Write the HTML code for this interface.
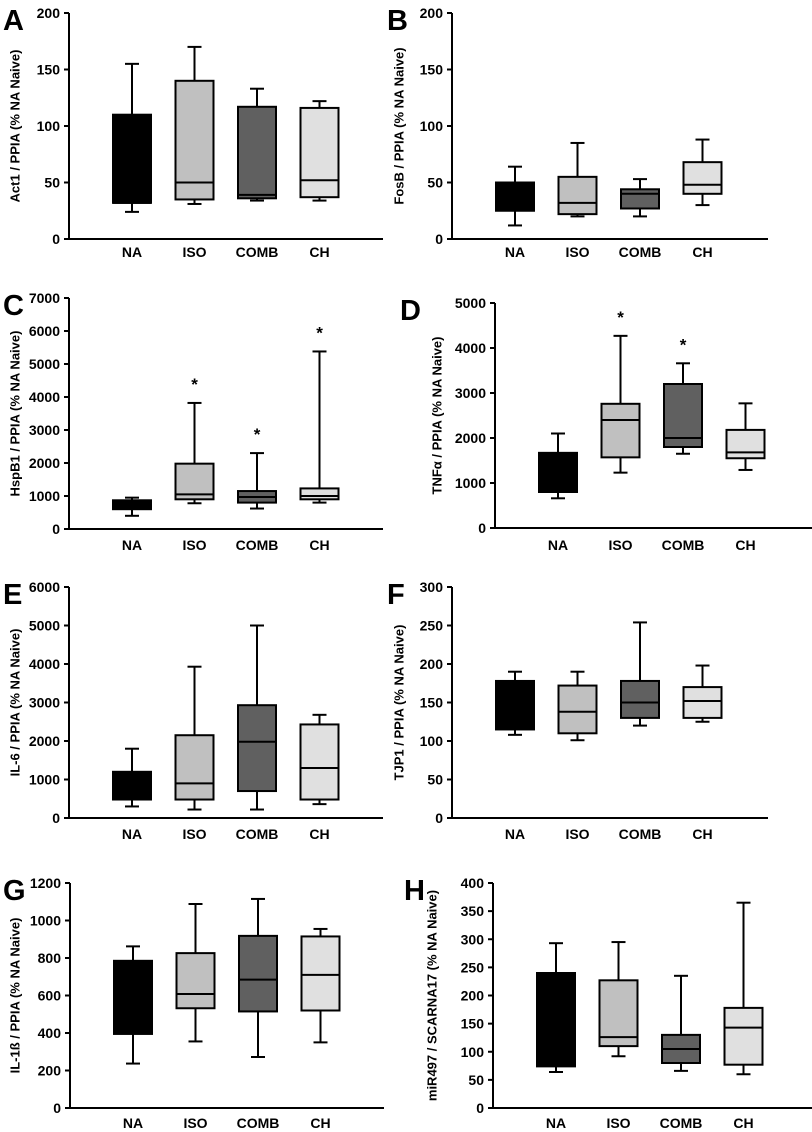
<!DOCTYPE html>
<html><head><meta charset="utf-8"><style>
body{margin:0;background:#fff;}
svg{display:block;font-family:"Liberation Sans",Arial,sans-serif;font-weight:bold;}
</style></head><body>
<svg id="fig" width="812" height="1132" viewBox="0 0 812 1132"></svg>
<script>
const groups = ["NA","ISO","COMB","CH"];
const fills = ["#000000","#c0c0c0","#606060","#e0e0e0"];
// [whiskerLow, q1, median, q3, whiskerHigh] per group
const dataA = [[24,32,32,110,155],[31,35,50,140,170],[34,36,39,117,133],[34,37,52,116,122]];
const dataB = [[12,25,40,50,64],[20,22,32,55,85],[20,27,40,44,53],[30,40,48,68,88]];
const dataC = [[400,600,700,870,950],[780,900,1050,1980,3820],[620,800,970,1150,2300],[800,900,1000,1230,5380]];
const dataD = [[660,800,1200,1670,2100],[1230,1570,2400,2760,4270],[1650,1800,2000,3200,3660],[1290,1550,1680,2180,2770]];
const dataE = [[300,480,800,1200,1800],[220,480,900,2150,3930],[220,700,1980,2930,5000],[360,480,1300,2430,2680]];
const dataF = [[108,115,150,178,190],[101,110,138,172,190],[120,130,150,178,254],[125,130,152,170,198]];
const dataG = [[237,395,570,785,862],[355,532,608,826,1088],[272,515,685,918,1115],[350,520,710,915,955]];
const dataH = [[64,74,160,240,293],[92,110,126,227,295],[66,80,105,130,235],[60,77,143,178,365]];
const ticksA = [0,50,100,150,200];
const ticksC = [0,1000,2000,3000,4000,5000,6000,7000];
const ticksD = [0,1000,2000,3000,4000,5000];
const ticksE = [0,1000,2000,3000,4000,5000,6000];
const ticksF = [0,50,100,150,200,250,300];
const ticksG = [0,200,400,600,800,1000,1200];
const ticksH = [0,50,100,150,200,250,300,350,400];
const starsC = [false,true,true,true];
const starsD = [false,true,true,false];
const none = [false,false,false,false];

const panels = [
 {id:"a",letter:"A",lx:3,ly:30,title:"Act1 / PPIA (% NA Naive)",tx:15,ax:69,top:13,bot:239,xend:383,lab:257,data:dataA,ticks:ticksA,stars:none},
 {id:"b",letter:"B",lx:387,ly:30,title:"FosB / PPIA (% NA Naive)",tx:399,ax:452,top:13,bot:239,xend:768,lab:257,data:dataB,ticks:ticksA,stars:none},
 {id:"c",letter:"C",lx:3,ly:315,title:"HspB1 / PPIA (% NA Naive)",tx:15,ax:69,top:298,bot:529,xend:383,lab:550,data:dataC,ticks:ticksC,stars:starsC},
 {id:"d",letter:"D",lx:400,ly:320,title:"TNF\u03b1 / PPIA (% NA Naive)",tx:437,ax:495,top:303,bot:528,xend:812,lab:550,data:dataD,ticks:ticksD,stars:starsD},
 {id:"e",letter:"E",lx:3,ly:604,title:"IL-6 / PPIA (% NA Naive)",tx:15,ax:69,top:587,bot:818,xend:383,lab:839,data:dataE,ticks:ticksE,stars:none},
 {id:"f",letter:"F",lx:387,ly:604,title:"TJP1 / PPIA (% NA Naive)",tx:399,ax:452,top:587,bot:818,xend:768,lab:839,data:dataF,ticks:ticksF,stars:none},
 {id:"g",letter:"G",lx:3,ly:900,title:"IL-1\u00df / PPIA (% NA Naive)",tx:15,ax:70,top:883,bot:1108,xend:384,lab:1128,data:dataG,ticks:ticksG,stars:none},
 {id:"h",letter:"H",lx:404,ly:900,title:"miR497 / SCARNA17 (% NA Naive)",tx:432,ax:493,top:883,bot:1108,xend:812,lab:1128,data:dataH,ticks:ticksH,stars:none}
];
const NS="http://www.w3.org/2000/svg";
const svg=document.getElementById('fig');
function mk(tag,attrs,parent){const e=document.createElementNS(NS,tag);for(const k in attrs)e.setAttribute(k,attrs[k]);parent.appendChild(e);return e;}
panels.forEach(p=>{
  const g=mk('g',{},svg);
  
  
  const maxV=p.ticks[p.ticks.length-1];
  const y=v=>p.bot-(v/maxV)*(p.bot-p.top);
  const xc=i=>p.ax+63+i*62.5;
  const L=mk('text',{x:p.lx,y:p.ly,'font-size':29,'font-weight':'bold'},g);L.textContent=p.letter;
  
  
  const T=mk('text',{x:p.tx,y:(p.top+p.bot)/2,'font-size':13,'text-anchor':'middle',transform:`rotate(-90 ${p.tx} ${(p.top+p.bot)/2})`,'dominant-baseline':'central'},g);T.textContent=p.title;
  
  
  const ya=mk('line',{x1:p.ax,y1:p.top,x2:p.ax,y2:p.bot+1,stroke:'#000','stroke-width':2},g);
  
  
  const xa=mk('line',{x1:p.ax-1,y1:p.bot,x2:p.xend,y2:p.bot,stroke:'#000','stroke-width':2},g);
  
  
  p.ticks.forEach(t=>{
    mk('line',{x1:p.ax-5,y1:y(t),x2:p.ax,y2:y(t),stroke:'#000','stroke-width':2},g);
    const tl=mk('text',{x:p.ax-9,y:y(t)+5,'font-size':14,'text-anchor':'end'},g);tl.textContent=t;
    
    
  });
  p.data.forEach((d,i)=>{
    const cx=xc(i),w=38;
    const bg=mk('g',{},g);
    
    
    mk('line',{x1:cx,y1:y(d[4]),x2:cx,y2:y(d[0]),stroke:'#000','stroke-width':2},bg);
    mk('line',{x1:cx-7,y1:y(d[4]),x2:cx+7,y2:y(d[4]),stroke:'#000','stroke-width':2},bg);
    mk('line',{x1:cx-7,y1:y(d[0]),x2:cx+7,y2:y(d[0]),stroke:'#000','stroke-width':2},bg);
    mk('rect',{x:cx-w/2,y:y(d[3]),width:w,height:Math.max(1,y(d[1])-y(d[3])),fill:fills[i],stroke:'#000','stroke-width':2},bg);
    mk('line',{x1:cx-w/2,y1:y(d[2]),x2:cx+w/2,y2:y(d[2]),stroke:'#000','stroke-width':2},bg);
    if(p.stars[i]){const s=mk('text',{x:cx,y:y(d[4])-13,'font-size':17,'text-anchor':'middle'},bg);s.textContent='*';
      
      }
    const xl=mk('text',{x:cx,y:p.lab,'font-size':14,'text-anchor':'middle'},g);xl.textContent=groups[i];
    
    
  });
});
</script>
</body></html>
